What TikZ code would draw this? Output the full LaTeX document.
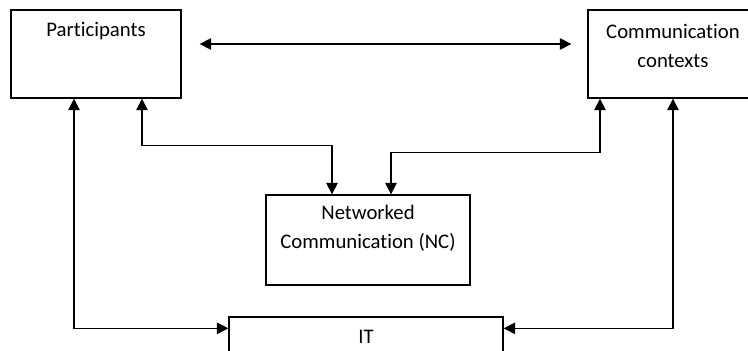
\documentclass[tikz,border=0pt]{standalone}
\usepackage{fontspec}
\setmainfont[Ligatures=NoCommon]{Carlito}
\usetikzlibrary{calc, arrows.meta}

\begin{document}
\begin{tikzpicture}[x=0.02cm, y=-0.02cm,
    box/.style={rectangle, draw=black, line width=0.75pt, minimum width=3.4cm, minimum height=1.76cm},
    txt/.style={font=\fontsize{11.8}{16.5}\selectfont, align=center, inner sep=0pt},
    link/.style={<->, line width=0.7pt, >={Triangle[length=6.5pt, width=6.5pt]}}]
    \useasboundingbox (0, 0) rectangle (748, 351);

    \node (part) at (96, 54)  [box] {};
    \node (ctx)  at (673, 54) [box] {};
    \node (nc)   at (368, 240) [box, minimum width=4.08cm, minimum height=1.8cm] {};
    \node (it)   at (366, 357) [box, minimum width=5.48cm, minimum height=1.6cm] {};

    \node (partlbl) at ($(part.north) + (0, 22)$) [txt] {Participants};
    \node (ctxlbl)  at ($(ctx.north) + (0, 37)$)  [txt] {Communication\\contexts};
    \node (nclbl)   at ($(nc.north) + (0, 34)$)   [txt] {Networked\\Communication (NC)};
    \node (itlbl)   at ($(it.north) + (0, 21)$)   [txt] {IT};

    \draw [link] ($(part.east) + (18, -10)$) -- ($(ctx.west) + (-16, -10)$);
    \draw [link] ($(part.south) + (46, 0)$) |- ($(nc.north) + (-36, -49)$) -- ($(nc.north) + (-36, 0)$);
    \draw [link] ($(ctx.south) + (-73, 0)$) |- ($(nc.north) + (23, -42)$) -- ($(nc.north) + (23, 0)$);
    \draw [link] ($(part.south) + (-22, 0)$) |- ($(it.north west) + (0, 12)$);
    \draw [link] (ctx.south) |- ($(it.north east) + (0, 12)$);
\end{tikzpicture}
\end{document}
